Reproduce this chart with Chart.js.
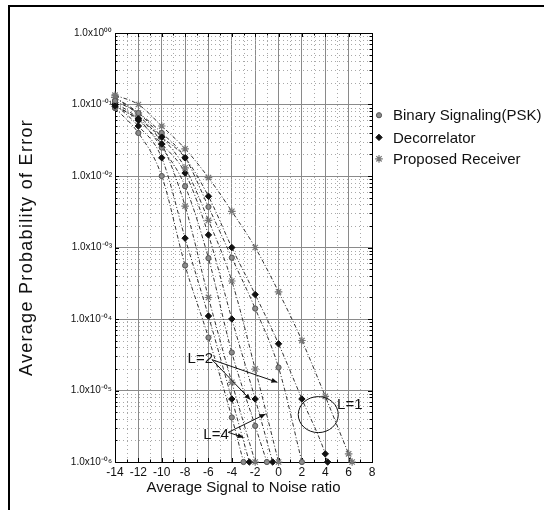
<!DOCTYPE html>
<html><head><meta charset="utf-8">
<script src="https://cdn.jsdelivr.net/npm/chart.js@4.4.0/dist/chart.umd.min.js"></script>
<style>
html,body{margin:0;padding:0;background:#fff;}
#wrap{position:relative;width:544px;height:510px;overflow:hidden;background:#fff;}
#frame{position:absolute;left:8px;top:5px;right:-10px;bottom:-10px;border-left:2px solid #000;border-top:2px solid #000;pointer-events:none;}
canvas{position:absolute;left:0;top:0;}
</style></head><body>
<div id="wrap"><canvas id="c" width="544" height="510"></canvas><div id="frame"></div></div>
<script>
// ---- data ----
const snrTicks = [-14,-12,-10,-8,-6,-4,-2,0,2,4,6,8];
const peTicks = [1e-6,1e-5,1e-4,1e-3,1e-2,1e-1,1];
const peTickLabels = ['1.0x10\u207B\u2070\u2076','1.0x10\u207B\u2070\u2075','1.0x10\u207B\u2070\u2074','1.0x10\u207B\u2070\u00B3','1.0x10\u207B\u2070\u00B2','1.0x10\u207B\u2070\u00B9','1.0x10\u2070\u2070'];
const legendLabels = ['Binary Signaling(PSK)','Decorrelator','Proposed Receiver'];
const yTitle = 'Average Probability of Error';
const xTitle = 'Average Signal to Noise ratio';

// L = 1
const snrL1Prop = [-14,-12,-10,-8,-6,-4,-2,0,2,4,6,6.3];
const peL1Prop  = [1.35e-1,1.0e-1,5.0e-2,2.4e-2,9.5e-3,3.2e-3,1.0e-3,2.4e-4,5.0e-5,8.3e-6,1.3e-6,1.0e-6];
const snrL1Dec  = [-14,-12,-10,-8,-6,-4,-2,0,2,4,4.2];
const peL1Dec   = [9.5e-2,6.3e-2,3.5e-2,1.8e-2,5.2e-3,1.0e-3,2.2e-4,4.5e-5,7.6e-6,1.3e-6,1.0e-6];
const snrL1Psk  = [-14,-12,-10,-8,-6,-4,-2,0,2];
const peL1Psk   = [1.12e-1,7.6e-2,4.0e-2,1.8e-2,3.7e-3,7.2e-4,1.4e-4,2.1e-5,1.0e-6];
// L = 2
const snrL2Prop = [-14,-12,-10,-8,-6,-4,-2,0];
const peL2Prop  = [1.26e-1,7.6e-2,3.5e-2,1.3e-2,2.4e-3,3.4e-4,2.0e-5,1.0e-6];
const snrL2Dec  = [-14,-12,-10,-8,-6,-4,-2,-0.5];
const peL2Dec   = [1.0e-1,6.0e-2,2.8e-2,1.1e-2,1.5e-3,1.0e-4,7.6e-6,1.0e-6];
const snrL2Psk  = [-14,-12,-10,-8,-6,-4,-2,-1];
const peL2Psk   = [1.07e-1,6.3e-2,2.5e-2,7.2e-3,7.1e-4,3.4e-5,3.2e-6,1.0e-6];
// L = 4
const snrL4Prop = [-14,-12,-10,-8,-6,-4,-2];
const peL4Prop  = [1.26e-1,7.1e-2,2.8e-2,3.8e-3,2.0e-4,1.3e-5,1.0e-6];
const snrL4Dec  = [-14,-12,-10,-8,-6,-4,-2.5];
const peL4Dec   = [1.0e-1,5.0e-2,1.8e-2,1.35e-3,1.1e-4,7.6e-6,1.0e-6];
const snrL4Psk  = [-14,-12,-10,-8,-6,-4,-3];
const peL4Psk   = [8.9e-2,4.0e-2,1.0e-2,5.6e-4,5.5e-5,4.2e-6,1.0e-6];

// ---- styles ----
const FONT = "'Liberation Sans', Arial, Helvetica, sans-serif";
const styles = {
  psk:  {pointStyle:'circle',  pointRadius:2.6, pointBackgroundColor:'#8a8a8a', pointBorderColor:'#555', pointBorderWidth:1},
  dec:  {pointStyle:'rectRot', pointRadius:3.2, pointBackgroundColor:'#111',    pointBorderColor:'#111', pointBorderWidth:1},
  prop: {pointStyle:'star',    pointRadius:3.8, pointBackgroundColor:'#999',    pointBorderColor:'#777', pointBorderWidth:1.2}
};
function mk(xs, ys, kind){
  return Object.assign({
    data: xs.map((x,i)=>({x:x, y:ys[i]})),
    borderColor:'#333', borderWidth:1, borderDash:[4,2,1,2],
    cubicInterpolationMode:'monotone', fill:false, clip:false
  }, styles[kind]);
}
const datasets = [
  mk(snrL1Prop,peL1Prop,'prop'), mk(snrL1Dec,peL1Dec,'dec'), mk(snrL1Psk,peL1Psk,'psk'),
  mk(snrL2Prop,peL2Prop,'prop'), mk(snrL2Dec,peL2Dec,'dec'), mk(snrL2Psk,peL2Psk,'psk'),
  mk(snrL4Prop,peL4Prop,'prop'), mk(snrL4Dec,peL4Dec,'dec'), mk(snrL4Psk,peL4Psk,'psk')
];

// annotation positions in data space
const notes = [
  {text:'L=2', x:-6.7, y:2.8e-5, arrows:[{fx:-5.7,fy:2.7e-5,tx:-0.1,ty:1.3e-5},{fx:-5.7,fy:2.7e-5,tx:-2.4,ty:7.4e-6}]},
  {text:'L=4', x:-5.35, y:2.4e-6, arrows:[{fx:-4.3,fy:2.6e-6,tx:-1.1,ty:4.7e-6},{fx:-4.3,fy:2.6e-6,tx:-3.0,ty:2.2e-6}]},
  {text:'L=1', x:6.1, y:6.3e-6, arrows:[]}
];
const ellipseL1 = {x:3.4, y:4.6e-6, rx:20, ry:18};
const legendRowsPe = [10**-1.15, 10**-1.46, 10**-1.76];

const decor = {
  id:'decor',
  beforeDatasetsDraw(chart){
    const c = chart.ctx, xs = chart.scales.x, ys = chart.scales.y, a = chart.chartArea;
    c.save();
    // minor dotted grid
    c.strokeStyle = '#a8a8a8'; c.lineWidth = 1; c.setLineDash([1,3]);
    for (let v=-13; v<8; v+=2){
      const px = Math.round(xs.getPixelForValue(v))+0.5;
      c.beginPath(); c.moveTo(px,a.top); c.lineTo(px,a.bottom); c.stroke();
    }
    for (let e=-6; e<0; e++){
      for (let k=2; k<10; k++){
        const py = Math.round(ys.getPixelForValue(k*Math.pow(10,e)))+0.5;
        c.beginPath(); c.moveTo(a.left,py); c.lineTo(a.right,py); c.stroke();
      }
    }
    c.setLineDash([]);
    // frame
    c.strokeStyle = '#000'; c.lineWidth = 1;
    c.strokeRect(Math.round(a.left)+0.5, Math.round(a.top)+0.5, Math.round(a.right-a.left), Math.round(a.bottom-a.top));
    // inward ticks
    c.beginPath();
    for (let v=-14; v<=8; v+=1){
      const px = Math.round(xs.getPixelForValue(v))+0.5;
      const len = (v%2===0)?4:2.5;
      c.moveTo(px,a.top); c.lineTo(px,a.top+len);
      c.moveTo(px,a.bottom); c.lineTo(px,a.bottom-len);
    }
    for (let e=-6; e<0; e++){
      for (let k=1; k<10; k++){
        const py = Math.round(ys.getPixelForValue(k*Math.pow(10,e)))+0.5;
        const len = (k===1)?4:2.5;
        c.moveTo(a.left,py); c.lineTo(a.left+len,py);
        c.moveTo(a.right,py); c.lineTo(a.right-len,py);
      }
    }
    c.stroke();
    c.restore();
  },
  afterDraw(chart){
    const c = chart.ctx, xs = chart.scales.x, ys = chart.scales.y, a = chart.chartArea;
    c.save();
    // y title with letter spacing
    c.save();
    c.translate(27, (a.top + a.bottom)/2);
    c.rotate(-Math.PI/2);
    c.font = '18px ' + FONT; c.fillStyle = '#111';
    c.textAlign = 'center'; c.textBaseline = 'middle';
    if ('letterSpacing' in c) c.letterSpacing = '1.3px';
    c.fillText(yTitle, 0, 0);
    c.restore();
    // annotations
    c.fillStyle = '#111'; c.strokeStyle = '#111'; c.lineWidth = 1;
    c.font = '15px ' + FONT; c.textAlign = 'center'; c.textBaseline = 'middle';
    notes.forEach(n=>{
      c.fillText(n.text, xs.getPixelForValue(n.x), ys.getPixelForValue(n.y));
      n.arrows.forEach(ar=>{
        const x1 = xs.getPixelForValue(ar.fx), y1 = ys.getPixelForValue(ar.fy);
        const x2 = xs.getPixelForValue(ar.tx), y2 = ys.getPixelForValue(ar.ty);
        c.beginPath(); c.moveTo(x1,y1); c.lineTo(x2,y2); c.stroke();
        const ang = Math.atan2(y2-y1, x2-x1), L = 6, W = 2.5;
        c.beginPath();
        c.moveTo(x2,y2);
        c.lineTo(x2 - L*Math.cos(ang) + W*Math.sin(ang), y2 - L*Math.sin(ang) - W*Math.cos(ang));
        c.lineTo(x2 - L*Math.cos(ang) - W*Math.sin(ang), y2 - L*Math.sin(ang) + W*Math.cos(ang));
        c.closePath(); c.fill();
      });
    });
    c.beginPath();
    c.ellipse(xs.getPixelForValue(ellipseL1.x), ys.getPixelForValue(ellipseL1.y), ellipseL1.rx, ellipseL1.ry, 0, 0, Math.PI*2);
    c.stroke();
    // legend
    const lx = a.right + 7, tx = a.right + 21;
    const kinds = ['psk','dec','prop'];
    c.font = '15px ' + FONT; c.textAlign = 'left'; c.textBaseline = 'middle';
    kinds.forEach((k,i)=>{
      const s = styles[k];
      const ry = ys.getPixelForValue(legendRowsPe[i]);
      c.fillStyle = s.pointBackgroundColor; c.strokeStyle = s.pointBorderColor; c.lineWidth = s.pointBorderWidth;
      Chart.helpers.drawPoint(c, {pointStyle:s.pointStyle, radius:s.pointRadius, rotation:0, borderWidth:s.pointBorderWidth}, lx, ry);
      c.fillStyle = '#111';
      c.fillText(legendLabels[i], tx, ry+1);
    });
    c.restore();
  }
};

new Chart(document.getElementById('c').getContext('2d'), {
  type:'line',
  data:{datasets:datasets},
  options:{
    responsive:false, animation:false, devicePixelRatio:1,
    layout:{padding:{left:18, right:172, top:33, bottom:10}},
    plugins:{legend:{display:false}, tooltip:{enabled:false}},
    scales:{
      x:{
        type:'linear', min:-14, max:8,
        afterBuildTicks(s){ s.ticks = snrTicks.map(v=>({value:v})); },
        afterFit(s){ s.height = 38; },
        ticks:{color:'#111', font:{family:FONT, size:12}, padding:3, maxRotation:0, autoSkip:false},
        grid:{color:'#8a8a8a', lineWidth:1, drawTicks:false},
        border:{color:'#000', width:1},
        title:{display:true, text:xTitle, color:'#111', font:{family:FONT, size:15}, padding:{top:0,bottom:3}}
      },
      y:{
        type:'logarithmic', min:1e-6, max:1,
        afterBuildTicks(s){ s.ticks = peTicks.map(v=>({value:v})); },
        afterFit(s){ s.width = 97; },
        ticks:{color:'#111', font:{family:FONT, size:10}, padding:3, autoSkip:false,
          callback(v){ const i = peTicks.findIndex(t=>Math.abs(Math.log10(t)-Math.log10(v))<0.01); return i>=0?peTickLabels[i]:''; }},
        grid:{color:'#8a8a8a', lineWidth:1, drawTicks:false},
        border:{color:'#000', width:1},
        title:{display:false}
      }
    }
  },
  plugins:[decor]
});
</script>
</body></html>
